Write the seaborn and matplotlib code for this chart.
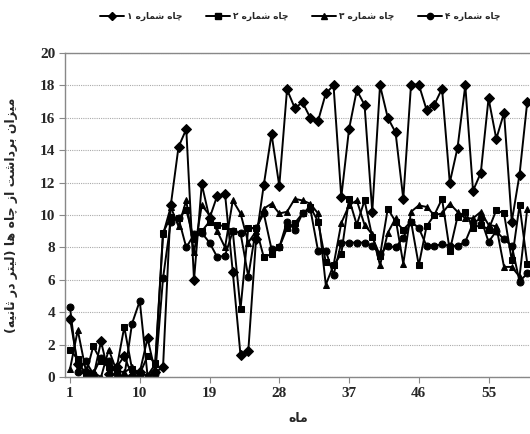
import numpy as np
import pandas as pd
import seaborn as sns
import matplotlib.pyplot as plt
from matplotlib.lines import Line2D

months = list(range(1, 61))

well_1 = [3.6, 0.8, 0.3, 0.0, 2.2, 0.2, 0.6, 1.3, 0.1, 0.3, 2.4, 0.3, 0.6,
          10.6, 14.2, 15.3, 6.0, 11.9, 9.8, 11.2, 11.3, 6.5, 1.35, 1.6, 8.5,
          11.85, 15.0, 11.8, 17.75, 16.6, 16.95, 16.0, 15.8, 17.5, 18.0, 11.1,
          15.3, 17.7, 16.8, 10.2, 18.0, 16.0, 15.1, 11.0, 18.05, 18.05, 16.5,
          16.8, 17.8, 12.0, 14.15, 18.0, 11.5, 12.6, 17.2, 14.7, 16.3, 9.6,
          12.5, 17.0]
well_2 = [1.7, 1.1, 0.1, 1.9, 1.0, 0.6, 0.5, 3.1, 0.5, 0.2, 1.3, 0.9, 8.9,
          9.9, 9.8, 10.3, 8.5, 9.0, 9.6, 9.4, 9.3, 9.0, 4.2, 9.2, 9.2,
          7.4, 7.6, 8.0, 9.2, 9.5, 10.1, 10.5, 9.6, 7.1, 6.9, 7.6,
          11.0, 9.4, 10.9, 8.65, 7.5, 10.4, 9.6, 9.1, 9.6, 6.9, 9.3,
          10.0, 11.0, 7.8, 9.9, 10.2, 9.2, 9.4, 9.1, 10.3, 10.1, 7.2,
          10.6, 7.0]
well_3 = [0.5, 2.9, 0.5, 0.3, 0.0, 1.7, 0.4, 0.3, 0.6, 0.2, 0.1, 0.8, 8.8,
          10.5, 9.3, 10.9, 7.7, 10.6, 10.0, 9.0, 8.0, 10.9, 10.1, 8.3, 9.0,
          10.4, 10.7, 10.1, 10.2, 11.0, 10.9, 10.7, 10.1, 5.7, 6.9, 9.5,
          10.6, 10.9, 9.4, 8.8, 6.9, 8.9, 9.8, 7.0, 10.2, 10.6, 10.5,
          10.0, 10.1, 10.7, 10.2, 9.8, 9.8, 10.2, 9.4, 9.3, 6.8, 6.8,
          6.2, 10.4]
well_4 = [4.3, 0.3, 1.0, 0.2, 1.2, 1.0, 0.2, 0.0, 3.3, 4.7, 0.1, 0.2, 6.1,
          9.6, 9.8, 8.0, 8.8, 8.9, 8.3, 7.4, 7.5, 9.0, 8.9, 6.2, 9.2,
          10.1, 7.9, 8.0, 9.6, 9.1, 10.1, 10.4, 7.8, 7.8, 6.3, 8.3,
          8.3, 8.3, 8.3, 8.1, 7.6, 8.1, 8.0, 8.6, 9.6, 9.2, 8.1,
          8.1, 8.2, 8.1, 8.1, 8.35, 9.5, 9.8, 8.35, 9.0, 8.5, 8.1,
          5.9, 6.4]

x_ticks = [1, 10, 19, 28, 37, 46, 55]
y_ticks = [0, 2, 4, 6, 8, 10, 12, 14, 16, 18, 20]

well_names = ['چاه شماره ۱', 'چاه شماره ۲', 'چاه شماره ۳', 'چاه شماره ۴']
x_title = 'ماه'
y_title = 'میزان برداشت از چاه ها (لیتر در ثانیه)'

# matplotlib has no arabic shaping, so pick the contextual forms by hand
FORMS = {
    'ا': ('\uFE8D', '\uFE8E', None, None),
    'ب': ('\uFE8F', '\uFE90', '\uFE91', '\uFE92'),
    'ت': ('\uFE95', '\uFE96', '\uFE97', '\uFE98'),
    'ث': ('\uFE99', '\uFE9A', '\uFE9B', '\uFE9C'),
    'د': ('\uFEA9', '\uFEAA', None, None),
    'ر': ('\uFEAD', '\uFEAE', None, None),
    'ز': ('\uFEAF', '\uFEB0', None, None),
    'ش': ('\uFEB5', '\uFEB6', '\uFEB7', '\uFEB8'),
    'ل': ('\uFEDD', '\uFEDE', '\uFEDF', '\uFEE0'),
    'م': ('\uFEE1', '\uFEE2', '\uFEE3', '\uFEE4'),
    'ن': ('\uFEE5', '\uFEE6', '\uFEE7', '\uFEE8'),
    'ه': ('\uFEE9', '\uFEEA', '\uFEEB', '\uFEEC'),
    'ی': ('\uFBFC', '\uFBFD', '\uFBFE', '\uFBFF'),
    'چ': ('\uFB7A', '\uFB7B', '\uFB7C', '\uFB7D'),
}


def shape(text):
    out = []
    for i, ch in enumerate(text):
        if ch not in FORMS:
            out.append(ch)
            continue
        prev = text[i - 1] if i > 0 else ''
        nxt = text[i + 1] if i + 1 < len(text) else ''
        join_prev = prev in FORMS and FORMS[prev][2] is not None
        join_next = nxt in FORMS and FORMS[ch][2] is not None
        iso, fin, ini, med = FORMS[ch]
        if join_prev and join_next:
            out.append(med)
        elif join_prev:
            out.append(fin)
        elif join_next:
            out.append(ini)
        else:
            out.append(iso)
    vis = ''.join(out)[::-1]
    return vis.translate(str.maketrans('()', ')('))


df = pd.DataFrame({
    'month': months * 4,
    'value': well_1 + well_2 + well_3 + well_4,
    'well': sum([[n] * len(months) for n in well_names], []),
})

sns.set_style('white')
plt.rcParams['font.family'] = ['Liberation Serif', 'DejaVu Sans']

fig = plt.figure(figsize=(5.3, 4.34), dpi=100)
ax = fig.add_axes([0.1226, 0.131, 0.8774, 0.747])

markers = dict(zip(well_names, ['D', 's', '^', 'o']))

sns.lineplot(data=df, x='month', y='value', hue='well', style='well',
             markers=markers, dashes=False, palette=['black'] * 4,
             linewidth=1.4, markersize=5, markeredgecolor='black',
             legend=False, ax=ax)

ax.set_xlim(0.35, 60.35)
ax.set_ylim(0, 20)
ax.set_xticks(x_ticks)
ax.set_yticks(y_ticks)
ax.tick_params(axis='both', labelsize=11, length=4, color='#888888',
               direction='out', pad=3)
for lab in ax.get_xticklabels() + ax.get_yticklabels():
    lab.set_fontweight('bold')
ax.tick_params(axis='y', left=True)
ax.tick_params(axis='x', bottom=True)

ax.grid(axis='y', linestyle=(0, (1, 1)), color='#aaaaaa', linewidth=0.8)
for s in ['left', 'bottom', 'top']:
    ax.spines[s].set_color('#888888')
    ax.spines[s].set_linewidth(1.0)
ax.spines['right'].set_visible(False)

ax.set_xlabel('')
ax.set_ylabel('')
fig.text(0.562, 0.02, shape(x_title), family='DejaVu Sans', fontsize=9,
         fontweight='bold', ha='center', va='bottom')
fig.text(0.022, 0.505, shape(y_title), family='DejaVu Sans', fontsize=9,
         fontweight='bold', rotation=90, ha='center', va='center')

handles = [Line2D([], [], color='black', linewidth=1.4, marker=markers[n],
                  markersize=4.5) for n in well_names]
fig.legend(handles, [shape(n) for n in well_names], loc='center',
           bbox_to_anchor=(0.567, 0.962), ncol=4, frameon=False,
           prop={'family': 'DejaVu Sans', 'size': 6.5, 'weight': 'bold'},
           handlelength=2.6, handletextpad=0.4, columnspacing=2.6)

fig.savefig('out.png', dpi=100)
